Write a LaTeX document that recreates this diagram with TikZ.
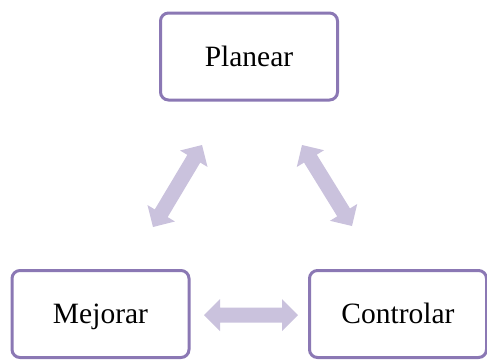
\documentclass[tikz,border=0pt]{standalone}
\usepackage{fontspec}
\setmainfont{Liberation Serif}
\usetikzlibrary{calc}
\definecolor{boxline}{HTML}{8B78B4}
\definecolor{arrowfill}{HTML}{CAC2DD}
\tikzset{
  stagebox/.style={draw=boxline, line width=3pt, rounded corners=8pt, fill=white,
    minimum width=177pt, minimum height=87pt, inner sep=0pt,
    text height=23pt, text depth=4pt,
    font=\fontsize{29.5}{34}\selectfont, text=black},
  dblarrowfill/.style={fill=arrowfill, draw=none}
}
\newcommand{\mydblarrow}[2]{%
  \fill[dblarrowfill] (#1)
    -- ($(#1)!16pt!(#2)!16pt!90:(#2)$)
    -- ($(#1)!16pt!(#2)!7.5pt!90:(#2)$)
    -- ($(#2)!16pt!(#1)!7.5pt!-90:(#1)$)
    -- ($(#2)!16pt!(#1)!16pt!-90:(#1)$)
    -- (#2)
    -- ($(#2)!16pt!(#1)!16pt!90:(#1)$)
    -- ($(#2)!16pt!(#1)!7.5pt!90:(#1)$)
    -- ($(#1)!16pt!(#2)!7.5pt!-90:(#2)$)
    -- ($(#1)!16pt!(#2)!16pt!-90:(#2)$)
    -- cycle;}
\begin{document}
\begin{tikzpicture}[x=1pt, y=-1pt]
\useasboundingbox (0,0) rectangle (487,360);
\node[stagebox] (plan) at (249,56.5) {Planear};
\node[stagebox] (mej) at (100.5,314) {Mejorar};
\node[stagebox] (ctrl) at (398,314) {Controlar};
\coordinate (la) at (153,227);
\coordinate (lb) at (202,145);
\coordinate (ra) at (302,145);
\coordinate (rb) at (352,226);
\coordinate (ba) at (204,315);
\coordinate (bb) at (298,315);
\mydblarrow{la}{lb}
\mydblarrow{ra}{rb}
\mydblarrow{ba}{bb}
\end{tikzpicture}
\end{document}
